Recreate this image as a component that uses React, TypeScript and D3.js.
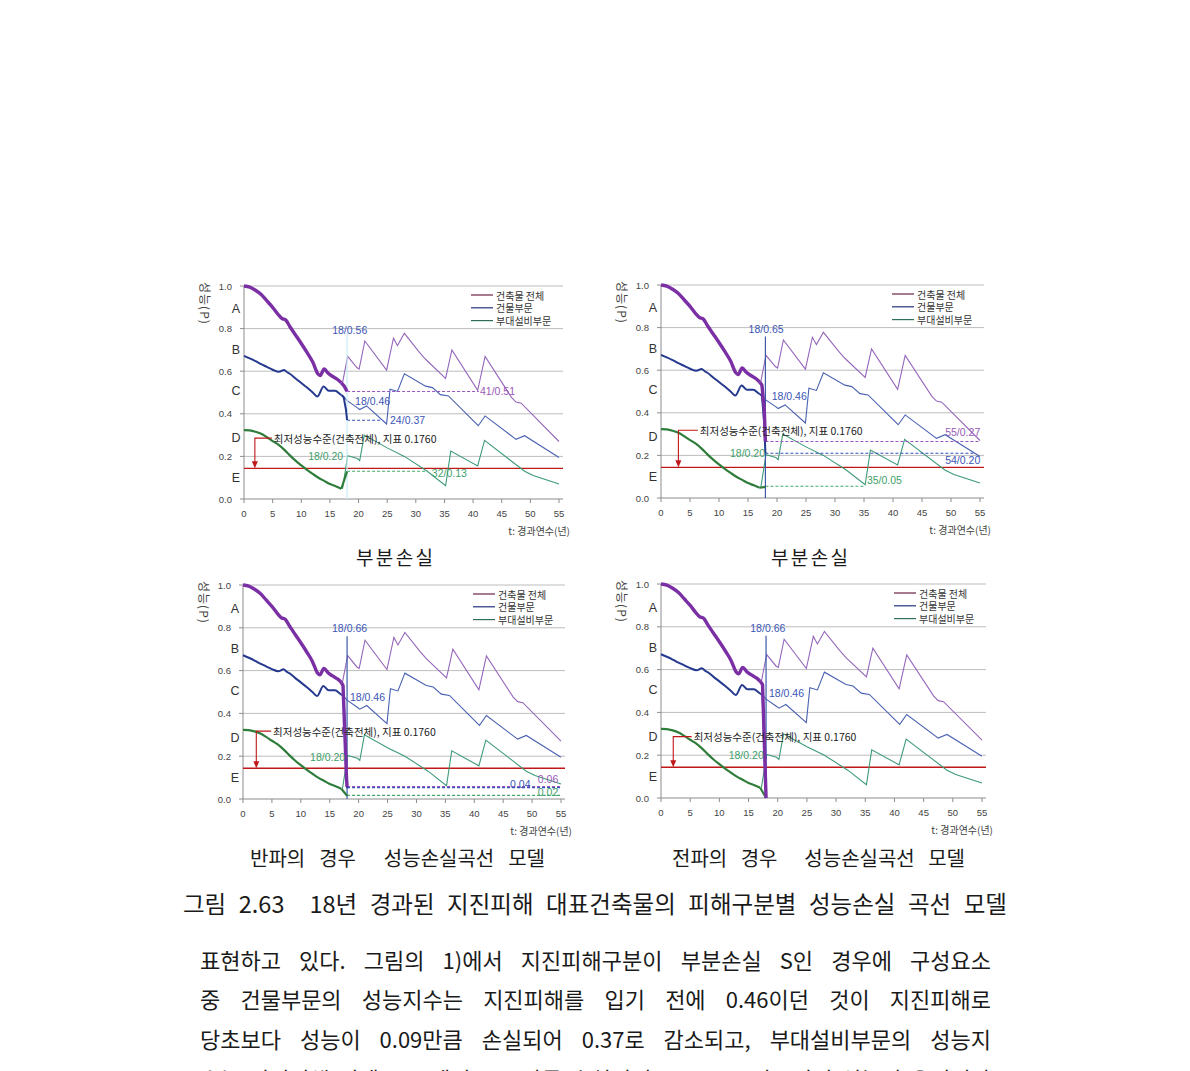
import React, { useEffect, useRef } from "react";
import * as d3 from "d3";

type Pt = [number, number];

// ---------- axis / label content ----------
const xTickValues = [0, 5, 10, 15, 20, 25, 30, 35, 40, 45, 50, 55];
const yTickValues = [0, 0.2, 0.4, 0.6, 0.8, 1.0];
const gradeLetters = ["A", "B", "C", "D", "E"];
const gradeLevels = [0.89, 0.7, 0.505, 0.285, 0.1];
const legendNames = ["건축물 전체", "건물부문", "부대설비부문"];
const yTitle = "성능(P)";
const xTitle = "t: 경과연수(년)";
const minLevel = 0.144;
const minLevelNote = "최저성능수준(건축전체), 지표 0.1760";

// ---------- shared curves: before the earthquake (thick) ----------
const totalPre: Pt[] = [[0, 1.0], [1, 0.995], [2, 0.98], [3, 0.96], [4, 0.93], [5, 0.9], [6, 0.865], [6.6, 0.848], [7.3, 0.84], [8, 0.81], [9, 0.77], [10, 0.73], [11, 0.688], [12, 0.643], [12.9, 0.588], [13.3, 0.58], [14, 0.61], [14.7, 0.59], [15.5, 0.575], [16.4, 0.56], [17, 0.545]];
const buildingPre: Pt[] = [[0, 0.672], [1, 0.66], [2, 0.647], [3, 0.633], [4, 0.62], [5, 0.607], [6.1, 0.597], [7, 0.606], [7.6, 0.594], [8, 0.588], [9, 0.566], [10, 0.545], [11, 0.523], [12, 0.5], [12.8, 0.481], [13.9, 0.528], [14.8, 0.508], [15.9, 0.508], [16.8, 0.492], [17, 0.488]];
const equipPre: Pt[] = [[0, 0.323], [1, 0.322], [2, 0.316], [3, 0.306], [4, 0.29], [5, 0.272], [6, 0.255], [7, 0.232], [8, 0.205], [9, 0.18], [10, 0.158], [11, 0.137], [12, 0.118], [13, 0.1], [14, 0.085], [15, 0.07], [16, 0.06], [17, 0.048]];

// ---------- shared curves: undamaged continuation (thin) ----------
const totalPost: Pt[] = [[17.2, 0.545], [18.1, 0.67], [19.7, 0.617], [20.1, 0.61], [21.1, 0.742], [24.9, 0.605], [26.1, 0.755], [26.8, 0.72], [28, 0.778], [30.6, 0.69], [31.7, 0.656], [35.2, 0.566], [36.3, 0.7], [40.8, 0.51], [42.1, 0.669], [46.7, 0.477], [47.5, 0.455], [48.4, 0.45], [55, 0.27]];
const buildingPost: Pt[] = [[17.2, 0.488], [18, 0.462], [19.7, 0.43], [20.2, 0.42], [21.4, 0.437], [24.9, 0.352], [25.5, 0.515], [26.8, 0.505], [28, 0.588], [31.7, 0.53], [32.9, 0.523], [34.3, 0.49], [35.7, 0.484], [40.9, 0.344], [42.1, 0.39], [47.5, 0.28], [49, 0.297], [55, 0.195]];
const equipPost: Pt[] = [[17.2, 0.048], [18.1, 0.203], [19.8, 0.19], [20.2, 0.18], [21, 0.3], [25, 0.24], [28, 0.2], [32, 0.13], [35.2, 0.062], [36.1, 0.225], [40.8, 0.155], [42, 0.275], [49, 0.13], [50.5, 0.11], [55, 0.07]];

// ---------- damage drops at year 18 (per panel) ----------
const dropTotal1: Pt[] = [[17, 0.545], [17.5, 0.53], [18, 0.505]];
const dropBuilding1: Pt[] = [[17, 0.488], [17.4, 0.478], [17.8, 0.42], [18, 0.37]];
const dropEquip1: Pt[] = [[17, 0.048], [18, 0.13]];
const dropTotal2: Pt[] = [[17, 0.545], [17.4, 0.53], [17.8, 0.42], [18, 0.265]];
const dropBuilding2: Pt[] = [[17, 0.488], [17.4, 0.48], [17.8, 0.35], [18, 0.21]];
const dropEquip2: Pt[] = [[17, 0.048], [18, 0.052]];
const dropTotal3: Pt[] = [[17, 0.545], [17.3, 0.53], [17.9, 0.1], [18, 0.057]];
const dropBuilding3: Pt[] = [[17, 0.488], [17.4, 0.48], [18, 0.05]];
const dropEquip3: Pt[] = [[17, 0.048], [18, 0.015]];
const dropTotal4: Pt[] = [[17, 0.545], [17.4, 0.53], [18, 0.0]];
const dropBuilding4: Pt[] = [[17, 0.488], [17.4, 0.48], [18, 0.0]];
const dropEquip4: Pt[] = [[17, 0.048], [18, 0.0]];

// dashed residual levels: [series, level, end year]
const dash1: [string, number, number][] = [["total", 0.505, 41], ["building", 0.37, 24], ["equip", 0.13, 32]];
const dash2: [string, number, number][] = [["total", 0.265, 55], ["building", 0.21, 54], ["equip", 0.055, 35]];
const dash3: [string, number, number][] = [["total", 0.058, 55], ["building", 0.053, 55], ["equip", 0.017, 55]];
const dash4: [string, number, number][] = [];

// value labels: [text, year, level, series]
const labels1: [string, number, number, string][] = [["18/0.56", 15.4, 0.795, "building"], ["18/0.46", 19.4, 0.461, "building"], ["24/0.37", 25.5, 0.371, "building"], ["41/0.51", 41.2, 0.507, "total"], ["18/0.20", 11.2, 0.2, "equip"], ["32/0.13", 32.8, 0.122, "equip"]];
const labels2: [string, number, number, string][] = [["18/0.65", 15.1, 0.794, "building"], ["18/0.46", 19.1, 0.477, "building"], ["18/0.20", 11.9, 0.211, "equip"], ["55/0.27", 49.0, 0.309, "total"], ["54/0.20", 49.0, 0.18, "building"], ["35/0.05", 35.5, 0.083, "equip"]];
const labels3: [string, number, number, string][] = [["18/0.66", 15.4, 0.797, "building"], ["18/0.46", 18.5, 0.477, "building"], ["18/0.20", 11.6, 0.198, "equip"], ["0.06", 51.0, 0.095, "total"], ["0.04", 46.2, 0.07, "building"], ["0.02", 51.0, 0.033, "equip"]];
const labels4: [string, number, number, string][] = [["18/0.66", 15.3, 0.794, "building"], ["18/0.46", 18.5, 0.49, "building"], ["18/0.20", 11.6, 0.203, "equip"]];

// note anchor: [text start year, level, arrow year]
const note1: [number, number, number] = [5.2, 0.286, 1.9];
const note2: [number, number, number] = [6.7, 0.318, 3.0];
const note3: [number, number, number] = [5.2, 0.317, 2.3];
const note4: [number, number, number] = [5.6, 0.287, 2.1];

// ---------- page text ----------
const subCaptions = ["부분손실", "부분손실", "반파의 경우  성능손실곡선 모델", "전파의 경우  성능손실곡선 모델"];
const figureCaption = "그림 2.63  18년 경과된 지진피해 대표건축물의 피해구분별 성능손실 곡선 모델";
const bodyLines = [
  "표현하고 있다. 그림의 1)에서 지진피해구분이 부분손실 S인 경우에 구성요소",
  "중 건물부문의 성능지수는 지진피해를 입기 전에 0.46이던 것이 지진피해로",
  "당초보다 성능이 0.09만큼 손실되어 0.37로 감소되고, 부대설비부문의 성능지",
  "수는 지진피해 전에 0.20에서 0.07만큼 손실되어 0.13으로 감소되어 성능이 유지된다",
];

// ---------- layout & style ----------
const FONT_KR = "'Noto Sans CJK KR', 'Noto Sans', sans-serif";
const FONT_CH = "'Liberation Sans', 'Noto Sans CJK KR', sans-serif";
const thickColor: Record<string, string> = { total: "#7b2fa5", building: "#25398f", equip: "#2f7d3b" };
const thinColor: Record<string, string> = { total: "#9566bb", building: "#4a62b2", equip: "#3d9a78" };
const dashColor: Record<string, string> = { total: "#9a55c0", building: "#3552b8", equip: "#45a86a" };
const labelColor: Record<string, string> = { total: "#9a5ab8", building: "#3b55b5", equip: "#3f9f6a" };
const legendColor = ["#6b2346", "#23337a", "#2f6f5a"];
const thickWidth: Record<string, number> = { total: 3.4, building: 2, equip: 2.2 };

const boxes = [
  { left: 244, right: 559, top: 286, bottom: 499 },
  { left: 661, right: 980, top: 285, bottom: 498 },
  { left: 243, right: 561, top: 585, bottom: 799 },
  { left: 661, right: 982, top: 584, bottom: 798 },
];

type PanelProps = {
  box: { left: number; right: number; top: number; bottom: number };
  drops: Record<string, Pt[]>;
  dashes: [string, number, number][];
  labels: [string, number, number, string][];
  note: [number, number, number];
  vlineColor: string;
  vlineTop: number;
};

function Panel({ box, drops, dashes, labels, note, vlineColor, vlineTop }: PanelProps) {
  const x = d3.scaleLinear().domain([0, 55]).range([box.left, box.right]);
  const y = d3.scaleLinear().domain([0, 1]).range([box.bottom, box.top]);
  const smooth = d3.line<Pt>().x((d) => x(d[0])).y((d) => y(d[1])).curve(d3.curveMonotoneX);
  const poly = d3.line<Pt>().x((d) => x(d[0])).y((d) => y(d[1]));
  const pre: Record<string, Pt[]> = { total: totalPre, building: buildingPre, equip: equipPre };
  const post: Record<string, Pt[]> = { total: totalPost, building: buildingPost, equip: equipPost };
  const order = ["equip", "building", "total"];
  const arrowX = x(note[2]);
  const noteY = y(note[1]);
  const redY = y(minLevel);
  return (
    <g>
      {yTickValues.map((v) => (
        <g key={"g" + v}>
          {v > 0 && <line x1={box.left} x2={box.right + 4} y1={y(v)} y2={y(v)} stroke="#bdbdbd" strokeWidth={1} />}
          <line x1={box.left - 4} x2={box.left} y1={y(v)} y2={y(v)} stroke="#8c8c8c" />
          <text x={box.left - 12} y={y(v)} textAnchor="end" dominantBaseline="central" fontSize={9.5} fontFamily={FONT_CH} fill="#444">
            {v.toFixed(1)}
          </text>
        </g>
      ))}
      <line x1={box.left} x2={box.left} y1={box.top} y2={box.bottom} stroke="#8c8c8c" />
      <line x1={box.left} x2={box.right + 4} y1={box.bottom} y2={box.bottom} stroke="#8c8c8c" />
      {xTickValues.map((t) => (
        <g key={"x" + t}>
          <line x1={x(t)} x2={x(t)} y1={box.bottom} y2={box.bottom + 4} stroke="#8c8c8c" />
          <text x={x(t)} y={box.bottom + 14} textAnchor="middle" dominantBaseline="central" fontSize={9.5} fontFamily={FONT_CH} fill="#444">
            {t}
          </text>
        </g>
      ))}
      {gradeLetters.map((L, i) => (
        <text key={L} x={box.left - 8} y={y(gradeLevels[i])} textAnchor="middle" dominantBaseline="central" fontSize={12.5} fontFamily={FONT_CH} fill="#333">
          {L}
        </text>
      ))}
      <text transform={`translate(${box.left - 39},${box.top - 4}) rotate(90)`} fontSize={12} letterSpacing={1} fontFamily={FONT_KR} fill="#444" dominantBaseline="central">
        {yTitle}
      </text>
      <text x={box.right + 11} y={box.bottom + 31} textAnchor="end" dominantBaseline="central" fontSize={10} fontFamily={FONT_KR} fill="#444">
        {xTitle}
      </text>

      {/* minimum performance line */}
      <line x1={box.left} x2={box.right + 4} y1={redY} y2={redY} stroke="#c01818" strokeWidth={1.4} />

      {/* thin continuation */}
      {order.map((k) => (
        <path key={"p" + k} d={poly(post[k]) || ""} fill="none" stroke={thinColor[k]} strokeWidth={1.1} />
      ))}
      {/* dashed residual levels */}
      {dashes.map(([k, v, t1]) => (
        <line key={"d" + k} x1={x(18)} x2={x(t1)} y1={y(v)} y2={y(v)} stroke={dashColor[k]} strokeWidth={1.1} strokeDasharray="3,2" />
      ))}
      {/* vertical at year 18 */}
      <line x1={x(18)} x2={x(18)} y1={y(vlineTop)} y2={y(0)} stroke={vlineColor} strokeWidth={1.2} />
      {/* thick pre-damage curves */}
      {order.map((k) => (
        <path key={"t" + k} d={smooth(pre[k]) || ""} fill="none" stroke={thickColor[k]} strokeWidth={thickWidth[k]} strokeLinejoin="round" />
      ))}
      {order.map((k) => (
        <path key={"q" + k} d={poly(drops[k]) || ""} fill="none" stroke={thickColor[k]} strokeWidth={thickWidth[k]} strokeLinejoin="round" />
      ))}

      {/* note with red bracket arrow */}
      <path d={`M${x(note[0]) - 2},${noteY} H${arrowX} V${redY - 6}`} fill="none" stroke="#c01818" strokeWidth={1.1} />
      <path d={`M${arrowX - 3},${redY - 7} L${arrowX + 3},${redY - 7} L${arrowX},${redY} Z`} fill="#c01818" />
      <text x={x(note[0])} y={noteY} dominantBaseline="central" fontSize={10.5} fontFamily={FONT_KR} fill="#222">
        {minLevelNote}
      </text>

      {labels.map(([txt, t, v, k], i) => (
        <text key={"l" + i} x={x(t)} y={y(v)} dominantBaseline="central" fontSize={10.5} fontFamily={FONT_CH} fill={labelColor[k]}>
          {txt}
        </text>
      ))}

      {/* legend */}
      {legendNames.map((n, i) => (
        <g key={n}>
          <line x1={box.right - 88} x2={box.right - 66} y1={box.top + 9 + i * 12.8} y2={box.top + 9 + i * 12.8} stroke={legendColor[i]} strokeWidth={1.2} />
          <text x={box.right - 63} y={box.top + 9 + i * 12.8} dominantBaseline="central" fontSize={10} fontFamily={FONT_KR} fill="#333">
            {n}
          </text>
        </g>
      ))}
    </g>
  );
}

// justified text rows: [content, x0, x1, centre y, font size]
const textRows: [string, number, number, number, number][] = [
  [subCaptions[0], 356, 433, 556, 19],
  [subCaptions[1], 771, 848, 556, 19],
  [subCaptions[2], 250, 545, 857, 20],
  [subCaptions[3], 672, 965, 857, 20],
  [figureCaption, 183, 1007, 903, 23.5],
  [bodyLines[0], 200, 991, 959, 22],
  [bodyLines[1], 200, 991, 998, 22],
  [bodyLines[2], 200, 991, 1038, 22],
  [bodyLines[3], 200, 991, 1078, 22],
];

export default function App() {
  const ref = useRef<SVGSVGElement>(null);
  useEffect(() => {
    const g = d3.select(ref.current).select<SVGGElement>("g.page-text");
    g.selectAll("*").remove();
    textRows.forEach(([content, x0, x1, cy, size]) => {
      const tokens = content.split(" ");
      if (tokens.length === 1) {
        g.append("text")
          .attr("x", x0)
          .attr("y", cy)
          .attr("font-size", size)
          .attr("font-family", FONT_KR)
          .attr("dominant-baseline", "central")
          .attr("fill", "#1a1a1a")
          .attr("textLength", x1 - x0)
          .attr("lengthAdjust", "spacing")
          .text(content);
        return;
      }
      const nodes = tokens.map((tok) =>
        g.append("text")
          .attr("y", cy)
          .attr("font-size", size)
          .attr("font-family", FONT_KR)
          .attr("dominant-baseline", "central")
          .attr("fill", "#1a1a1a")
          .text(tok)
      );
      const widths = nodes.map((n) => (n.node() as SVGTextElement).getComputedTextLength());
      const gap = (x1 - x0 - d3.sum(widths)) / (tokens.length - 1);
      let cx = x0;
      nodes.forEach((n, i) => {
        n.attr("x", cx);
        cx += widths[i] + gap;
      });
    });
  }, []);

  return (
    <svg ref={ref} width={1190} height={1071} style={{ position: "absolute", left: 0, top: 0, background: "#fff" }}>
      <rect x={0} y={0} width={1190} height={1071} fill="#fff" />
      <Panel box={boxes[0]} drops={{ total: dropTotal1, building: dropBuilding1, equip: dropEquip1 }} dashes={dash1} labels={labels1} note={note1} vlineColor="#c8ecf2" vlineTop={0.78} />
      <Panel box={boxes[1]} drops={{ total: dropTotal2, building: dropBuilding2, equip: dropEquip2 }} dashes={dash2} labels={labels2} note={note2} vlineColor="#3a5aa8" vlineTop={0.758} />
      <Panel box={boxes[2]} drops={{ total: dropTotal3, building: dropBuilding3, equip: dropEquip3 }} dashes={dash3} labels={labels3} note={note3} vlineColor="#3a5aa8" vlineTop={0.76} />
      <Panel box={boxes[3]} drops={{ total: dropTotal4, building: dropBuilding4, equip: dropEquip4 }} dashes={dash4} labels={labels4} note={note4} vlineColor="#3a5aa8" vlineTop={0.758} />
      <g className="page-text" />
    </svg>
  );
}
